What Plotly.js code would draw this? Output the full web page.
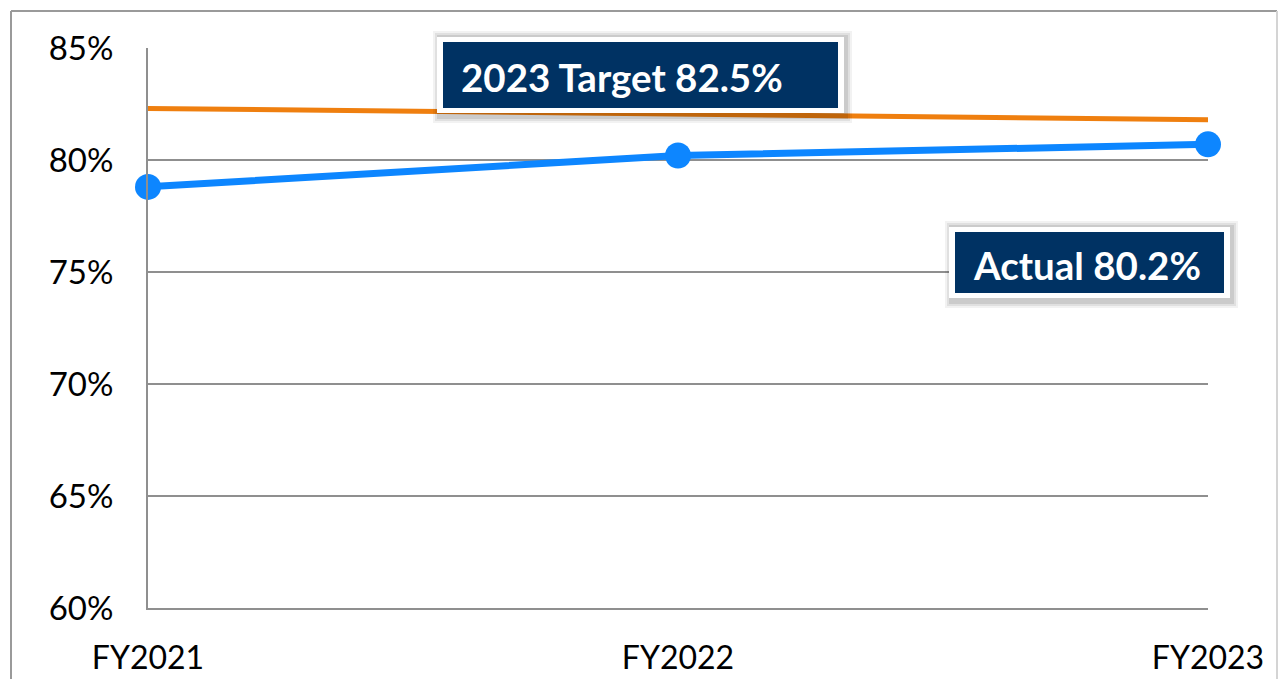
<!DOCTYPE html>
<html>
<head>
<meta charset="utf-8">
<script src="https://cdn.plot.ly/plotly-3.0.1.min.js"></script>
<style>
html,body{margin:0;padding:0;background:#fff;}
#chart{width:1280px;height:679px;}
</style>
</head>
<body>
<div id="chart"></div>
<script>
const categories = ['FY2021', 'FY2022', 'FY2023'];
const actualValues = [78.8, 80.2, 80.7];
const targetValues = [82.3, 82.05, 81.8];
const yTickValues = [60, 65, 70, 75, 80, 85];
const yTickLabels = ['60%', '65%', '70%', '75%', '80%', '85%'];
const targetLabel = '2023 Target 82.5%';
const actualLabel = 'Actual 80.2%';

const W = 1280, H = 679;
const M = {l: 148, r: 72, t: 48, b: 71};
const PW = W - M.l - M.r, PH = H - M.t - M.b;
const px = x => (x - M.l) / PW;
const py = y => (H - M.b - y) / PH;

function box(x0, y0, x1, y1) {
  const s = [];
  [[6, 0.05], [4, 0.07], [2, 0.09]].forEach(([d, a]) => {
    s.push({type: 'rect', xref: 'paper', yref: 'paper', layer: 'above',
      x0: px(x0 - 6 - d + 2), x1: px(x1 + 6 + d + 2), y0: py(y1 + 6 + d + 3), y1: py(y0 - 6 - d + 1),
      fillcolor: 'rgba(0,0,0,' + a + ')', line: {width: 0}});
  });
  s.push({type: 'rect', xref: 'paper', yref: 'paper', layer: 'above',
    x0: px(x0 - 6), x1: px(x1 + 6), y0: py(y1 + 5), y1: py(y0 - 5),
    fillcolor: '#ffffff', line: {width: 0}});
  s.push({type: 'rect', xref: 'paper', yref: 'paper', layer: 'above',
    x0: px(x0), x1: px(x1), y0: py(y1), y1: py(y0),
    fillcolor: '#003263', line: {width: 0}});
  return s;
}

const shapes = [
  {type: 'line', xref: 'paper', yref: 'paper', x0: px(11), x1: px(11), y0: py(11), y1: py(700), line: {color: '#9a9a9a', width: 2}},
  {type: 'line', xref: 'paper', yref: 'paper', x0: px(11), x1: px(1277), y0: py(11), y1: py(11), line: {color: '#9a9a9a', width: 2}},
  {type: 'line', xref: 'paper', yref: 'paper', x0: px(1277), x1: px(1277), y0: py(11), y1: py(700), line: {color: '#d4d4d4', width: 2}},
  ...box(443, 42, 838, 108),
  ...box(955, 232, 1224, 293)
];

const data = [
  {x: categories, y: targetValues, type: 'scatter', mode: 'lines',
   line: {color: '#EF7F0F', width: 5}, cliponaxis: false, hoverinfo: 'skip'},
  {x: categories, y: actualValues, type: 'scatter', mode: 'lines+markers',
   line: {color: '#0D86FF', width: 7}, marker: {color: '#0D86FF', size: 26},
   cliponaxis: false, hoverinfo: 'skip'}
];

const layout = {
  width: W, height: H,
  margin: M,
  paper_bgcolor: '#ffffff', plot_bgcolor: '#ffffff',
  showlegend: false,
  font: {family: 'Lato, "Open Sans", sans-serif', color: '#000000', size: 32},
  xaxis: {type: 'category', range: [0, 2], showgrid: false, zeroline: false,
    showline: true, linecolor: '#8f8f8f', linewidth: 2,
    ticks: '', ticklabelstandoff: 21, tickfont: {size: 32, color: '#000'}},
  yaxis: {range: [60, 85], tickvals: yTickValues, ticktext: yTickLabels,
    showgrid: true, gridcolor: '#8f8f8f', gridwidth: 2, zeroline: false,
    showline: true, linecolor: '#8f8f8f', linewidth: 2, ticks: '',
    ticklabelstandoff: 26, tickfont: {size: 33, color: '#000'}},
  shapes: shapes,
  annotations: [
    {xref: 'paper', yref: 'paper', x: px(459), y: py(77), xanchor: 'left', yanchor: 'middle',
     text: '<b>' + targetLabel + '</b>', showarrow: false,
     font: {family: 'Lato, "Open Sans", sans-serif', size: 38.5, color: '#ffffff'}},
    {xref: 'paper', yref: 'paper', x: px(971), y: py(265), xanchor: 'left', yanchor: 'middle',
     text: '<b>' + actualLabel + '</b>', showarrow: false,
     font: {family: 'Lato, "Open Sans", sans-serif', size: 38.5, color: '#ffffff'}}
  ]
};

Plotly.newPlot('chart', data, layout, {displayModeBar: false, staticPlot: true});
</script>
</body>
</html>
